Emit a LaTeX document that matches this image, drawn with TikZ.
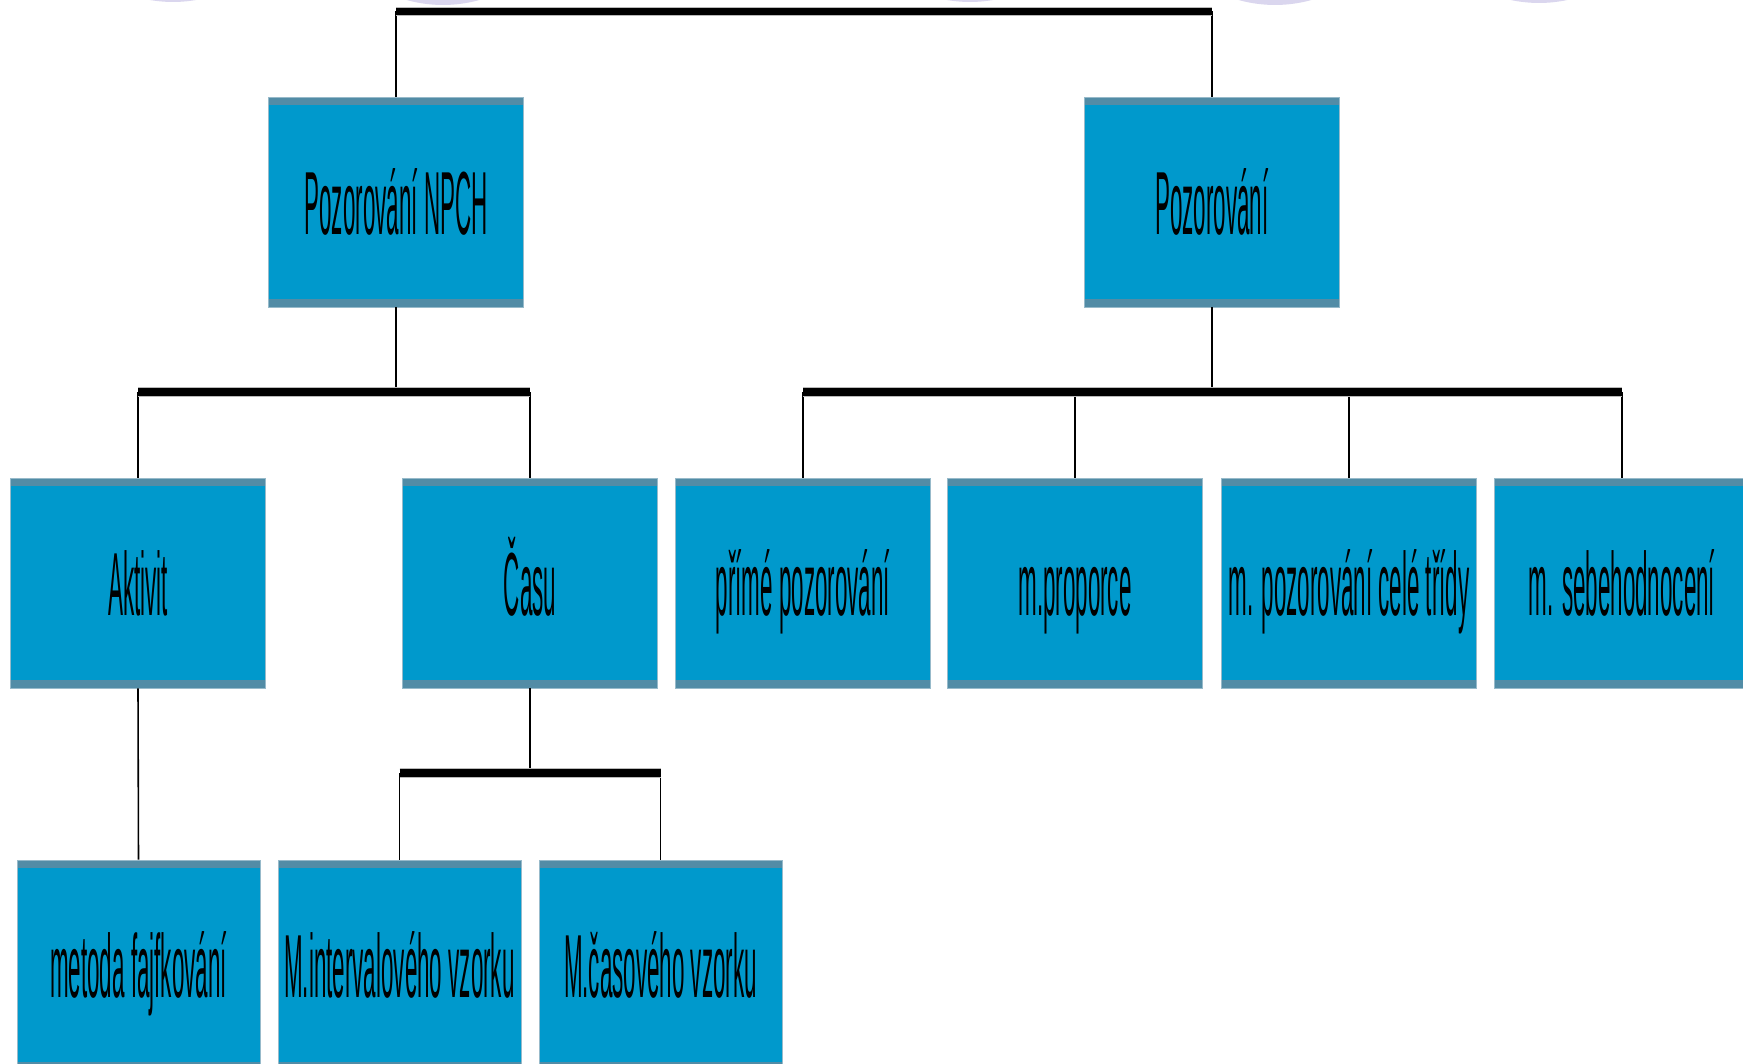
\documentclass[tikz,border=0pt]{standalone}
\usepackage{fontspec}
\setmainfont{Liberation Sans}
\usepackage{graphicx}
\usetikzlibrary{positioning,calc}

\definecolor{boxblue}{RGB}{0,153,204}
\definecolor{boxstripe}{RGB}{82,140,166}
\definecolor{bubble}{RGB}{218,214,238}

\newcommand{\narrow}[1]{\scalebox{0.25}[1]{#1}}

\tikzset{
  unit/.style={fill=boxblue, draw=boxstripe!60!white, line width=0.5pt,
    minimum width=5.1cm, minimum height=4.2cm, inner sep=0pt,
    text height=36.5pt, text depth=0pt, font=\fontsize{51}{60}\selectfont,
    path picture={
      \fill[boxstripe] (path picture bounding box.north west) rectangle ([yshift=-0.16cm]path picture bounding box.north east);
      \fill[boxstripe] (path picture bounding box.south west) rectangle ([yshift=0.16cm]path picture bounding box.south east);
    }},
  leaf/.style={unit, minimum width=4.86cm},
  hbar/.style={draw=gray!55, line width=0.5pt, double=black, double distance=0.15cm},
  link/.style={line width=0.9pt}
}

\begin{document}
\begin{tikzpicture}[x=0.02cm, y=-0.02cm]
    \useasboundingbox (0,0) rectangle (1743,1064);
    \clip (0,0) rectangle (1743,1064);

    % bubbles cut off at the top edge
    \foreach \bx/\by in {173/-133, 443/-130, 970/-133, 1275/-130, 1539/-132}
        \fill[bubble] (\bx,\by) circle (2.7cm);

    % first level
    \node[unit] (npch) at (396,202) {\narrow{Pozorování NPCH}};
    \node[unit] (poz) at (1212,202) {\narrow{Pozorování}};

    % second level
    \node[unit] (aktivit) at (138,583) {\narrow{Aktivit}};
    \node[unit] (casu) at (530,583) {\narrow{Času}};
    \node[unit] (prime) at (803,583) {\narrow{přímé pozorování}};
    \node[unit] (proporce) at (1075,583) {\narrow{m.proporce}};
    \node[unit] (trida) at (1349,583) {\narrow{m. pozorování celé třídy}};
    \node[unit] (sebe) at (1622,583) {\narrow{m. sebehodnocení}};

    % third level
    \node[leaf] (fajf) at (138.5,965) {\narrow{metoda fajfkování}};
    \node[leaf] (interval) at (399.5,965) {\narrow{M.intervalového vzorku}};
    \node[leaf] (casovy) at (660.5,965) {\narrow{M.časového vzorku}};

    % forks
    \coordinate (top) at (803,11.5);
    \coordinate (fork1) at (396,392);
    \coordinate (fork2) at (1212,392);
    \coordinate (fork3) at (530,773);

    \draw[link] (npch.north) -- (npch.north |- top);
    \draw[link] (poz.north) -- (poz.north |- top);
    \draw[link] (npch.south) -- (fork1);
    \draw[link] (poz.south) -- (fork2);
    \draw[link] (casu.south) -- (fork3);
    \draw[link] (aktivit.south) -- (fajf.north);
    \foreach \n in {aktivit, casu}
        \draw[link] (\n.north |- fork1) -- (\n.north);
    \foreach \n in {prime, proporce, trida, sebe}
        \draw[link] (\n.north |- fork2) -- (\n.north);
    \foreach \n in {interval, casovy}
        \draw[link] (\n.north |- fork3) -- (\n.north);

    \draw[hbar] (npch.north |- top) -- (top);
    \draw[hbar] (top) -- (poz.north |- top);
    \draw[hbar] (aktivit.north |- fork1) -- (casu.north |- fork1);
    \draw[hbar] (prime.north |- fork2) -- (sebe.north |- fork2);
    \draw[hbar] (interval.north |- fork3) -- (casovy.north |- fork3);
\end{tikzpicture}
\end{document}
